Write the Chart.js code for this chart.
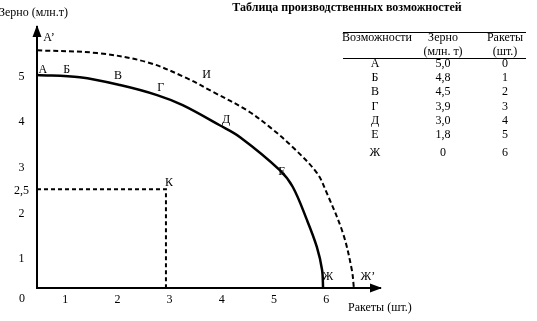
<!DOCTYPE html>
<html><head><meta charset="utf-8">
<script src="https://cdn.jsdelivr.net/npm/chart.js@4.4.1/dist/chart.umd.min.js"></script>
<style>html,body{margin:0;padding:0;background:#fff;}canvas{display:block;}</style>
</head><body>
<canvas id="c" width="537" height="321"></canvas>
<script>
// ---- Table of production possibilities ----
const tableOptions = ['А','Б','В','Г','Д','Е','Ж'];
const tableGrain = [5.0, 4.8, 4.5, 3.9, 3.0, 1.8, 0];
const tableRockets = [0, 1, 2, 3, 4, 5, 6];

// ---- Curves as drawn in the picture (read against the axis tick labels) ----
const ppfRockets = [0.46, 1.28, 2.05, 2.76, 3.25, 3.96, 4.35, 5.11, 5.36, 5.63, 5.82, 5.92, 5.94];
const ppfGrain   = [5.03, 4.98, 4.81, 4.59, 4.37, 3.93, 3.67, 2.95, 2.58, 1.86, 1.27, 0.77, 0.37];
const outerRockets = [0.46, 1.61, 2.57, 3.33, 3.83, 4.48, 4.92, 5.36, 5.82, 6.01, 6.32, 6.49, 6.53];
const outerGrain   = [5.57, 5.51, 5.31, 4.96, 4.66, 4.26, 3.89, 3.45, 2.89, 2.45, 1.57, 0.77, 0.37];
const kRockets = 2.93;
const kGrain = 2.53;

// ---- Axes ----
const xRange = [0.46, 7.03];
const yRange = [0.37, 6.08];
const xTicks = [1, 2, 3, 4, 5, 6];
const yTicks = [1, 2, 2.5, 3, 4, 5];

// ---- Letters on the picture ----
const markNames = ['А', 'Б', 'В', 'Г', 'Д', 'Е', 'Ж', 'А’', 'И', 'Ж’', 'К'];
const markRockets = [0.57, 1.03, 2.01, 2.83, 4.08, 5.15, 6.03, 0.69, 3.71, 6.80, 2.99];
const markGrain   = [5.14, 5.14, 5.01, 4.74, 4.04, 2.91, 0.61, 5.84, 5.03, 0.61, 2.67];

const title = 'Таблица производственных возможностей';
const headers1 = ['Возможности', 'Зерно', 'Ракеты'];
const headers2 = ['', '(млн. т)', '(шт.)'];
const yTitle = 'Зерно (млн.т)';
const xTitle = 'Ракеты (шт.)';

const FONT = '"Liberation Serif", "Times New Roman", serif';
const comma = v => String(v).replace('.', ',');
const fmtGrain = v => v === 0 ? '0' : v.toFixed(1).replace('.', ',');
const pts = (xs, ys) => xs.map((x, i) => ({x, y: ys[i]}));

const overlay = {
  id: 'overlay',
  afterDatasetsDraw(chart) {
    const {ctx, chartArea: a, scales: {x, y}} = chart;
    ctx.save();
    ctx.fillStyle = '#000';
    ctx.strokeStyle = '#000';
    // arrowheads
    ctx.beginPath();
    ctx.moveTo(a.left, a.top - 2); ctx.lineTo(a.left - 4.5, a.top + 10); ctx.lineTo(a.left + 4.5, a.top + 10);
    ctx.closePath(); ctx.fill();
    ctx.beginPath();
    ctx.moveTo(a.right + 2, a.bottom); ctx.lineTo(a.right - 10, a.bottom - 4.5); ctx.lineTo(a.right - 10, a.bottom + 4.5);
    ctx.closePath(); ctx.fill();

    ctx.font = '12px ' + FONT;
    ctx.textAlign = 'center';
    ctx.textBaseline = 'middle';
    // letters
    markNames.forEach((n, i) => {
      ctx.fillText(n, x.getPixelForValue(markRockets[i]), y.getPixelForValue(markGrain[i]));
    });
    // origin
    ctx.fillText('0', a.left - 15, a.bottom + 11);
    // axis titles
    ctx.textAlign = 'left';
    ctx.fillText(yTitle, -1, 13);
    ctx.fillText(xTitle, 348, 308);

    // title
    ctx.textAlign = 'center';
    ctx.font = 'bold 12px ' + FONT;
    ctx.fillText(title, 347, 8);

    // table
    ctx.font = '12px ' + FONT;
    const cols = [377, 443, 505];
    ctx.lineWidth = 1;
    ctx.beginPath();
    ctx.moveTo(343, 32.5); ctx.lineTo(526, 32.5);
    ctx.moveTo(343, 58.5); ctx.lineTo(526, 58.5);
    ctx.stroke();
    headers1.forEach((h, i) => ctx.fillText(h, cols[i], 38));
    headers2.forEach((h, i) => ctx.fillText(h, cols[i], 52));
    const rowY = [64, 78, 92, 107, 121, 135, 153];
    tableOptions.forEach((o, i) => {
      ctx.fillText(o, cols[0] - 2, rowY[i]);
      ctx.fillText(fmtGrain(tableGrain[i]), cols[1], rowY[i]);
      ctx.fillText(String(tableRockets[i]), cols[2], rowY[i]);
    });
    ctx.restore();
  }
};

new Chart(document.getElementById('c'), {
  type: 'scatter',
  data: {
    datasets: [
      {data: pts(ppfRockets, ppfGrain), showLine: true, borderColor: '#000', borderWidth: 2.5,
       pointRadius: 0, tension: 0.35, fill: false},
      {data: pts(outerRockets, outerGrain), showLine: true, borderColor: '#000', borderWidth: 2,
       borderDash: [5, 3], pointRadius: 0, tension: 0.35, fill: false},
      {data: [{x: xRange[0], y: kGrain}, {x: kRockets, y: kGrain}, {x: kRockets, y: yRange[0]}],
       showLine: true, borderColor: '#000', borderWidth: 2, borderDash: [4, 3], pointRadius: 0, tension: 0}
    ]
  },
  options: {
    responsive: false,
    animation: false,
    devicePixelRatio: 1,
    layout: {padding: {left: 0, top: 27, right: 157, bottom: 0}},
    plugins: {legend: {display: false}, tooltip: {enabled: false}},
    scales: {
      x: {
        type: 'linear', min: xRange[0], max: xRange[1],
        afterBuildTicks: s => { s.ticks = xTicks.map(v => ({value: v})); },
        afterFit: s => { s.height = 33; },
        grid: {display: false, drawTicks: false},
        border: {display: true, width: 2, color: '#000'},
        ticks: {color: '#000', font: {family: FONT, size: 12}, padding: 5, maxRotation: 0, autoSkip: false,
                callback: v => comma(v)}
      },
      y: {
        type: 'linear', min: yRange[0], max: yRange[1],
        afterBuildTicks: s => { s.ticks = yTicks.map(v => ({value: v})); },
        afterFit: s => { s.width = 37; },
        grid: {display: false, drawTicks: false},
        border: {display: true, width: 2, color: '#000'},
        ticks: {color: '#000', font: {family: FONT, size: 12}, padding: 8, crossAlign: 'center', autoSkip: false,
                callback: v => comma(v)}
      }
    }
  },
  plugins: [overlay]
});
</script>
</body></html>
